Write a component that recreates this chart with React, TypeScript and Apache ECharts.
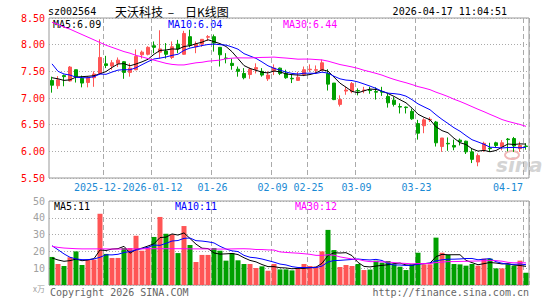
import React, { useEffect, useRef } from "react";
import * as echarts from "echarts";

const dates = [
  "2025-12-16","2025-12-17","2025-12-18","2025-12-19","2025-12-22","2025-12-23","2025-12-24","2025-12-25","2025-12-26","2025-12-29",
  "2025-12-30","2025-12-31","2026-01-05","2026-01-06","2026-01-07","2026-01-08","2026-01-09","2026-01-12","2026-01-13","2026-01-14",
  "2026-01-15","2026-01-16","2026-01-19","2026-01-20","2026-01-21","2026-01-22","2026-01-23","2026-01-26","2026-01-27","2026-01-28",
  "2026-01-29","2026-01-30","2026-02-02","2026-02-03","2026-02-04","2026-02-05","2026-02-06","2026-02-09","2026-02-10","2026-02-11",
  "2026-02-12","2026-02-13","2026-02-24","2026-02-25","2026-02-26","2026-02-27","2026-03-02","2026-03-03","2026-03-04","2026-03-05",
  "2026-03-06","2026-03-09","2026-03-10","2026-03-11","2026-03-12","2026-03-13","2026-03-16","2026-03-17","2026-03-18","2026-03-19",
  "2026-03-20","2026-03-23","2026-03-24","2026-03-25","2026-03-26","2026-03-27","2026-03-30","2026-03-31","2026-04-01","2026-04-02",
  "2026-04-03","2026-04-07","2026-04-08","2026-04-09","2026-04-10","2026-04-13","2026-04-14","2026-04-15","2026-04-16","2026-04-17",
];

// [open, close, low, high]
const candles = [
  [7.33,7.24,7.10,7.40],[7.23,7.34,7.17,7.41],[7.42,7.40,7.22,7.44],[7.32,7.58,7.31,7.60],[7.53,7.40,7.29,7.53],
  [7.37,7.28,7.20,7.42],[7.29,7.38,7.20,7.41],[7.38,7.45,7.21,7.50],[7.46,7.76,7.46,8.10],[7.64,7.61,7.56,7.79],
  [7.60,7.66,7.53,7.71],[7.65,7.71,7.58,7.76],[7.68,7.48,7.36,7.69],[7.48,7.56,7.40,7.65],[7.53,7.78,7.52,7.91],
  [7.81,7.86,7.74,7.89],[7.82,7.95,7.80,7.97],[7.98,7.95,7.84,8.06],[7.86,7.92,7.74,8.27],[7.88,7.82,7.74,8.03],
  [7.76,7.96,7.73,8.06],[8.01,7.92,7.84,8.09],[7.82,8.21,7.81,8.26],[8.15,7.99,7.95,8.28],[7.96,8.01,7.84,8.06],
  [8.01,8.10,7.96,8.10],[8.14,8.15,8.07,8.18],[8.15,8.03,7.87,8.19],[7.95,7.81,7.59,7.95],[7.75,7.74,7.65,7.84],
  [7.65,7.61,7.53,7.74],[7.54,7.50,7.40,7.59],[7.46,7.38,7.35,7.56],[7.44,7.54,7.36,7.57],[7.54,7.57,7.46,7.65],
  [7.50,7.43,7.40,7.56],[7.36,7.43,7.32,7.50],[7.51,7.56,7.43,7.63],[7.56,7.46,7.43,7.57],[7.46,7.38,7.36,7.53],
  [7.37,7.36,7.28,7.44],[7.33,7.39,7.32,7.49],[7.44,7.53,7.41,7.59],[7.53,7.54,7.49,7.63],[7.52,7.53,7.46,7.61],
  [7.52,7.66,7.51,7.72],[7.46,7.26,7.14,7.54],[7.28,6.97,6.96,7.28],[6.88,6.97,6.84,7.05],[7.13,7.15,7.06,7.21],
  [7.12,7.27,7.09,7.30],[7.14,7.13,7.05,7.18],[7.14,7.15,7.09,7.21],[7.15,7.14,7.08,7.21],[7.12,7.11,6.97,7.20],
  [7.12,7.11,7.04,7.21],[7.03,6.91,6.82,7.08],[6.96,6.88,6.84,7.02],[6.84,6.83,6.71,6.90],[6.83,6.82,6.71,6.84],
  [6.75,6.61,6.59,6.80],[6.52,6.34,6.22,6.59],[6.48,6.59,6.34,6.62],[6.59,6.60,6.55,6.64],[6.55,6.16,6.09,6.57],
  [6.09,6.25,5.99,6.25],[6.15,6.14,6.01,6.26],[6.11,6.08,6.02,6.22],[6.21,6.18,6.11,6.24],[6.19,5.99,5.95,6.20],
  [5.99,5.85,5.78,6.05],[5.80,5.92,5.72,5.96],[6.03,6.15,5.99,6.18],[6.06,6.05,5.99,6.16],[6.16,6.11,6.08,6.18],
  [6.09,6.16,6.02,6.21],[6.23,6.22,6.00,6.25],[6.24,6.10,5.99,6.27],[6.05,6.11,5.99,6.18],[6.10,6.09,6.03,6.15],
];

// volume (万手)
const volumes = [
  16.7,12.5,11.3,16.5,20.0,11.9,14.9,15.1,42.4,18.5,
  16.1,16.1,22.0,22.0,29.3,20.4,22.4,28.6,40.5,30.5,
  30.0,19.0,35.1,23.8,13.7,17.9,17.9,22.0,20.4,14.5,
  19.0,14.7,12.5,12.5,10.1,11.1,8.5,12.5,9.3,9.3,
  8.7,9.7,12.5,11.3,10.9,20.0,32.8,20.8,10.7,11.9,
  11.3,12.5,8.9,9.2,14.5,13.3,14.3,12.3,10.9,8.9,
  12.3,19.2,12.3,12.3,28.2,19.2,17.9,12.5,12.3,11.5,
  12.5,11.5,15.7,15.7,9.9,9.9,12.3,11.5,14.5,7.3,
];

// moving-average values before enough visible history exists
const priceMa5Head = [7.38, 7.36, 7.33, 7.34];
const priceMa10Head = [7.64, 7.50, 7.45, 7.43, 7.39, 7.38, 7.38, 7.40, 7.45];
const priceMa30Head = [
  8.42, 8.38, 8.33, 8.29, 8.24, 8.19, 8.14, 8.09, 8.04, 7.99,
  7.95, 7.91, 7.87, 7.84, 7.80, 7.77, 7.74, 7.71, 7.68, 7.65,
  7.63, 7.62, 7.62, 7.64, 7.66, 7.67, 7.69, 7.70, 7.71,
];
const volMa5Head = [16.1, 14.9, 14.1, 14.5];
const volMa10Head = [23.4, 21.0, 18.5, 16.5, 15.5, 15.1, 15.1, 15.5, 16.5];
const volMa30Head = [
  23.0, 22.4, 22.0, 21.8, 21.6, 21.5, 21.5, 21.5, 21.5, 21.5,
  21.4, 21.4, 21.4, 21.5, 21.5, 21.5, 21.6, 21.6, 21.6, 21.6,
  21.6, 21.6, 21.6, 21.5, 21.5, 21.5, 21.5, 21.4, 21.4,
];

const tickDates = ["2025-12-29","2026-01-12","2026-01-26","2026-02-09","2026-02-25","2026-03-09","2026-03-23","2026-04-17"];
// the first label is cut short by its neighbour in the reference, so only "2025-12-" is visible
const tickLabels = ["2025-12-","2026-01-12","01-26","02-09","02-25","03-09","03-23","04-17"];

const priceLegend = { ma5: "6.09", ma10: "6.04", ma30: "6.44" };
const volLegend = { ma5: "11", ma10: "11", ma30: "12" };

const MONO = '"DejaVu Sans Mono", "Liberation Mono", monospace';
const CJK = '"Noto Sans CJK SC", sans-serif';
const UP = "#ff5555";
const DOWN = "#00a000";
const C5 = "#000000";
const C10 = "#0000ff";
const C30 = "#ff00ff";

function movingAverage(vals: number[], n: number, head: number[]) {
  return vals.map((_, i) => {
    if (i < n - 1) return head[i];
    let s = 0;
    for (let j = i - n + 1; j <= i; j++) s += vals[j];
    return +(s / n).toFixed(3);
  });
}

function txt(x: number, y: number, text: string, fill: string, font: string, align = "left") {
  return {
    type: "text",
    x,
    y,
    silent: true,
    style: { text, fill, font, align, textAlign: align, verticalAlign: "middle", textVerticalAlign: "middle" },
  };
}

export default function App() {
  const ref = useRef<HTMLDivElement>(null);
  useEffect(() => {
    if (!ref.current) return;
    const chart = echarts.init(ref.current, null, { renderer: "svg" });
    const closes = candles.map((c) => c[1]);
    const tickIdx = tickDates.map((d) => dates.indexOf(d));
    const isTick = (i: number) => tickIdx.indexOf(i) >= 0;
    // index 0 carries a blank placeholder label so that the min-label overlap rule
    // does not hide the tightly packed first pair of labels
    const isLabel = (i: number) => i === 0 || isTick(i);
    const labelFor = (i: number) => {
      const p = tickIdx.indexOf(i);
      if (p < 0) return " ";
      if (p === 0) return `{cut|${tickLabels[p]}}`;
      return tickLabels[p];
    };
    const lineSeries = (name: string, data: number[], color: string, xi: number) => ({
      name,
      type: "line",
      xAxisIndex: xi,
      yAxisIndex: xi,
      data,
      showSymbol: false,
      symbol: "none",
      silent: true,
      smooth: false,
      lineStyle: { color, width: 1 },
      z: 5,
    });
    const gridLine = { color: "#aaaaaa", width: 1, type: [1, 2] };
    const vLine = { color: "#aaaaaa", width: 1, type: [5, 3] };

    chart.setOption({
      animation: false,
      backgroundColor: "#ffffff",
      grid: [
        { left: 49, width: 480, top: 18, height: 160, show: true, borderColor: "#999999", borderWidth: 1, backgroundColor: "transparent" },
        { left: 49, width: 480, top: 201, height: 84, show: true, borderColor: "#999999", borderWidth: 1, backgroundColor: "transparent" },
      ],
      xAxis: [
        {
          type: "category",
          gridIndex: 0,
          data: dates,
          boundaryGap: true,
          axisLine: { show: false },
          axisTick: { show: false },
          axisLabel: {
            interval: (i: number) => isLabel(i),
            formatter: (_v: string, i: number) => labelFor(i),
            color: "#1a8ad4",
            fontFamily: MONO,
            fontSize: 10,
            margin: 4,
            hideOverlap: false,
            alignMaxLabel: "right",
            padding: [0, 3, 0, 0],
            rich: {
              cut: { color: "#1a8ad4", fontFamily: MONO, fontSize: 10, padding: [0, 13, 0, 0] },
            },
          },
          splitLine: { show: true, interval: (i: number) => isTick(i), lineStyle: vLine },
        },
        {
          type: "category",
          gridIndex: 1,
          data: dates,
          boundaryGap: true,
          axisLine: { show: false },
          axisTick: { show: false },
          axisLabel: { show: false },
          splitLine: { show: true, interval: (i: number) => isTick(i), lineStyle: vLine },
        },
      ],
      yAxis: [
        {
          type: "value",
          gridIndex: 0,
          min: 5.5,
          max: 8.5,
          interval: 0.5,
          axisLine: { show: false },
          axisTick: { show: false },
          axisLabel: { color: "#ff0000", fontFamily: MONO, fontSize: 10, margin: 4, formatter: (v: number) => v.toFixed(2) },
          splitLine: { show: true, lineStyle: gridLine },
        },
        {
          type: "value",
          gridIndex: 1,
          min: 0,
          max: 50,
          interval: 10,
          axisLine: { show: false },
          axisTick: { show: false },
          axisLabel: {
            color: "#a0a0a0",
            fontFamily: MONO,
            fontSize: 10,
            margin: 4,
            formatter: (v: number) => (v === 0 ? "{u|x万}" : String(v)),
            rich: { u: { fontSize: 8, color: "#a0a0a0", fontFamily: CJK, padding: [6, 0, 0, 0] } },
          },
          splitLine: { show: true, lineStyle: gridLine },
        },
      ],
      series: [
        {
          name: "K",
          type: "candlestick",
          xAxisIndex: 0,
          yAxisIndex: 0,
          data: candles,
          barWidth: 4,
          silent: true,
          itemStyle: { color: UP, color0: DOWN, borderColor: UP, borderColor0: DOWN, borderWidth: 1 },
          z: 3,
        },
        lineSeries("MA5", movingAverage(closes, 5, priceMa5Head), C5, 0),
        lineSeries("MA10", movingAverage(closes, 10, priceMa10Head), C10, 0),
        lineSeries("MA30", movingAverage(closes, 30, priceMa30Head), C30, 0),
        {
          name: "VOL",
          type: "bar",
          xAxisIndex: 1,
          yAxisIndex: 1,
          barWidth: 5,
          silent: true,
          data: volumes.map((v, i) => ({
            value: v,
            itemStyle: { color: candles[i][1] >= candles[i][0] ? UP : DOWN },
          })),
          z: 3,
        },
        lineSeries("VMA5", movingAverage(volumes, 5, volMa5Head), C5, 1),
        lineSeries("VMA10", movingAverage(volumes, 10, volMa10Head), C10, 1),
        lineSeries("VMA30", movingAverage(volumes, 30, volMa30Head), C30, 1),
      ],
      graphic: [
        txt(48, 11, "sz002564", "#000000", `10px ${MONO}`),
        txt(115, 11, "天沃科技", "#000000", `12px ${CJK}`),
        txt(171, 11, "–", "#000000", `12px ${CJK}`, "center"),
        txt(185, 11, "日K线图", "#000000", `12px ${CJK}`),
        txt(507, 11, "2026-04-17 11:04:51", "#000000", `10px ${MONO}`, "right"),
        txt(53, 24, `MA5:${priceLegend.ma5}`, C5, `10px ${MONO}`),
        txt(168, 24, `MA10:${priceLegend.ma10}`, C10, `10px ${MONO}`),
        txt(283, 24, `MA30:${priceLegend.ma30}`, C30, `10px ${MONO}`),
        txt(54, 206, `MA5:${volLegend.ma5}`, C5, `10px ${MONO}`),
        txt(175, 206, `MA10:${volLegend.ma10}`, C10, `10px ${MONO}`),
        txt(295, 206, `MA30:${volLegend.ma30}`, C30, `10px ${MONO}`),
        txt(50, 292, "Copyright 2026 SINA.COM", "#666666", `10px ${MONO}`),
        txt(529, 292, "http://finance.sina.com.cn", "#666666", `10px ${MONO}`, "right"),
        {
          type: "ellipse",
          silent: true,
          shape: { cx: 512, cy: 155, rx: 7, ry: 4 },
          style: { fill: "none", stroke: "#f0b8b8", lineWidth: 2 },
          z: 1,
        },
        txt(496, 165, "sina", "#d4d4d4", `italic bold 20px "DejaVu Sans", sans-serif`),
      ],
    });
    return () => chart.dispose();
  }, []);
  return <div ref={ref} style={{ position: "fixed", left: 0, top: 0, width: 545, height: 300 }} />;
}
